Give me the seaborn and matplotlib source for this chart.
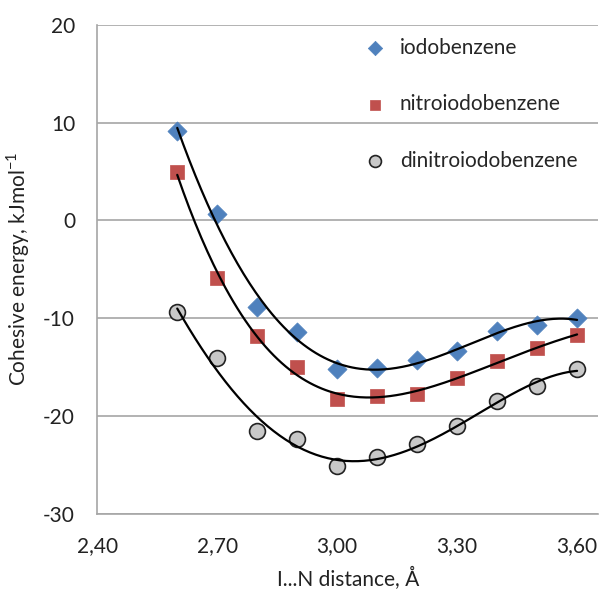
import numpy as np
import pandas as pd
import matplotlib
matplotlib.use("Agg")
import matplotlib.pyplot as plt
import seaborn as sns

distance = [2.6, 2.7, 2.8, 2.9, 3.0, 3.1, 3.2, 3.3, 3.4, 3.5, 3.6]
iodobenzene = [9.1, 0.7, -8.9, -11.4, -15.2, -15.1, -14.3, -13.3, -11.3, -10.7, -10.0]
nitroiodobenzene = [4.9, -5.9, -11.8, -15.0, -18.3, -17.9, -17.7, -16.1, -14.4, -13.0, -11.7]
dinitroiodobenzene = [-9.4, -14.1, -21.5, -22.3, -25.1, -24.2, -22.9, -21.0, -18.5, -16.9, -15.2]

series_names = ["iodobenzene", "nitroiodobenzene", "dinitroiodobenzene"]
series_values = [iodobenzene, nitroiodobenzene, dinitroiodobenzene]
colors = ["#4F81BD", "#C0504D", "#C8C8C8"]
markers = ["D", "s", "o"]
sizes = [95, 95, 130]
edges = ["#4F81BD", "#C0504D", "#222222"]

sns.set_theme(style="white")
plt.rcParams['font.family'] = ['Lato', 'DejaVu Sans']
plt.rcParams['axes.unicode_minus'] = False

FS = 15

fig = plt.figure(figsize=(6.08, 5.9), dpi=100)
ax = fig.add_axes([0.16, 0.129, 0.824, 0.829])

for y in [-30, -20, -10, 0, 10, 20]:
    ax.axhline(y, color="#A6A6A6", lw=1.2, zorder=0)

for name, vals, c, m, s, e in zip(series_names, series_values, colors, markers, sizes, edges):
    df = pd.DataFrame({"x": distance, "y": vals})
    coef = np.polyfit(distance, vals, 4)
    xf = np.linspace(distance[0], distance[-1], 200)
    fit = pd.DataFrame({"x": xf, "y": np.polyval(coef, xf)})
    sns.scatterplot(data=df, x="x", y="y", ax=ax, marker=m, s=s, color=c,
                    edgecolor=e, linewidth=1.2 if m == "o" else 0.5, label=name, zorder=3)
    sns.lineplot(data=fit, x="x", y="y", ax=ax, color="black", lw=1.6, zorder=4)

ax.set_xlim(2.40, 3.653)
ax.set_ylim(-30, 20)
ax.set_xticks([2.40, 2.70, 3.00, 3.30, 3.60])
ax.set_xticklabels(["2,40", "2,70", "3,00", "3,30", "3,60"])
ax.set_xticks(np.arange(2.5, 3.65, 0.1), minor=True)
ax.set_yticks([-30, -20, -10, 0, 10, 20])
ax.set_yticks([-25, -15, -5, 5, 15], minor=True)
ax.tick_params(axis="both", which="both", direction="out", color="#A6A6A6", labelsize=FS, labelcolor="#222222")
ax.tick_params(axis="both", which="major", length=6, width=1.2)
ax.tick_params(axis="both", which="minor", length=4, width=1.2)
ax.tick_params(axis="y", which="major", pad=10)
ax.tick_params(axis="x", which="major", pad=10)
for side in ["top", "right"]:
    ax.spines[side].set_visible(False)
for side in ["left", "bottom"]:
    ax.spines[side].set_color("#A6A6A6")
    ax.spines[side].set_linewidth(1.2)

ax.set_xlabel("I...N distance, Å", fontsize=FS, color="#222222", labelpad=8)
ax.set_ylabel("Cohesive energy, kJmol$^{\\mathregular{-1}}$", fontsize=FS, color="#222222", labelpad=8)

handles, labels = ax.get_legend_handles_labels()
leg = ax.legend(handles[:3], labels[:3], loc="upper left", bbox_to_anchor=(0.475, 1.012),
                frameon=False, fontsize=FS, labelspacing=1.75, handletextpad=0.2,
                markerscale=0.75)

fig.savefig("out.png", dpi=100)
